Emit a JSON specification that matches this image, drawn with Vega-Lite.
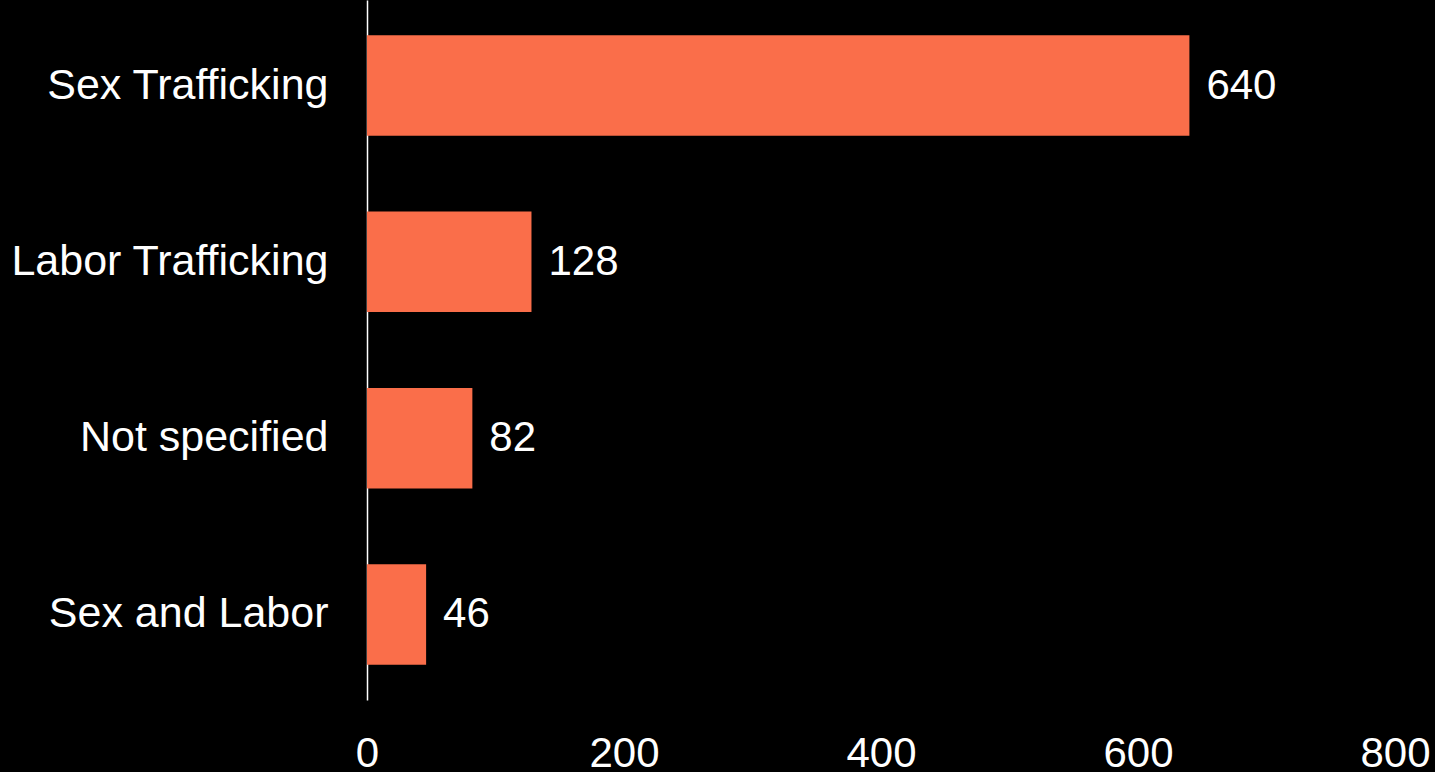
{
  "$schema": "https://vega.github.io/schema/vega-lite/v6.json",
  "autosize": "none",
  "width": 1028,
  "height": 700,
  "padding": {"left": 367, "top": 0, "right": 40, "bottom": 72},
  "background": "#000000",
  "config": {
    "view": {"stroke": null},
    "font": "Liberation Sans"
  },
  "data": {
    "values": [
      {"category": "Sex Trafficking", "count": 640},
      {"category": "Labor Trafficking", "count": 128},
      {"category": "Not specified", "count": 82},
      {"category": "Sex and Labor", "count": 46}
    ]
  },
  "encoding": {
    "y": {
      "field": "category",
      "type": "nominal",
      "sort": null,
      "scale": {"paddingInner": 0.43, "paddingOuter": 0.2},
      "axis": {
        "title": null,
        "ticks": false,
        "tickSize": 0,
        "grid": false,
        "domain": true,
        "domainColor": "#ffffff",
        "domainWidth": 1.5,
        "labelColor": "#ffffff",
        "labelFont": "Liberation Sans",
        "labelFontSize": 43,
        "labelPadding": 39,
        "labelLimit": 0
      }
    },
    "x": {
      "field": "count",
      "type": "quantitative",
      "scale": {"domain": [0, 800], "nice": false},
      "axis": {
        "title": null,
        "values": [0, 200, 400, 600, 800],
        "ticks": false,
        "tickSize": 0,
        "grid": false,
        "domain": false,
        "labelColor": "#ffffff",
        "labelFont": "Liberation Sans",
        "labelFontSize": 42,
        "labelBaseline": "alphabetic",
        "labelPadding": 66,
        "labelFlush": false,
        "labelOverlap": false
      }
    }
  },
  "layer": [
    {"mark": {"type": "bar", "color": "#FA6E4A"}},
    {
      "mark": {
        "type": "text",
        "align": "left",
        "baseline": "middle",
        "dx": 17,
        "fontSize": 42,
        "font": "Liberation Sans",
        "color": "#ffffff"
      },
      "encoding": {"text": {"field": "count", "type": "quantitative"}}
    }
  ]
}
